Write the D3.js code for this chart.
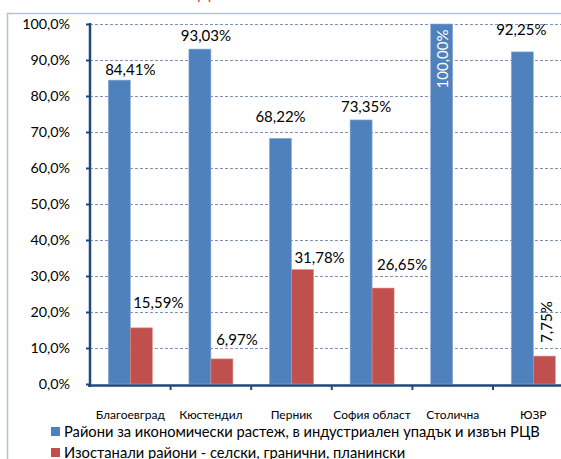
<!DOCTYPE html>
<html>
<head>
<meta charset="utf-8">
<script src="https://cdn.jsdelivr.net/npm/d3@7"></script>
<style>
  body { margin: 0; background: #fff; }
  svg { display: block; font-family: Lato, "Liberation Sans", sans-serif; }
</style>
</head>
<body>
<svg id="chart" width="561" height="459"></svg>
<script>
// data
const categories = ["Благоевград", "Кюстендил", "Перник", "София област", "Столична", "ЮЗР"];
const seriesNames = [
  "Райони за икономически растеж, в индустриален упадък и извън РЦВ",
  "Изостанали райони - селски, гранични, планински"
];
const growthValues = [0.8441, 0.9303, 0.6822, 0.7335, 1.0, 0.9225];
const laggingValues = [0.1559, 0.0697, 0.3178, 0.2665, null, 0.0775];
const growthLabels = ["84,41%", "93,03%", "68,22%", "73,35%", "100,00%", "92,25%"];
const laggingLabels = ["15,59%", "6,97%", "31,78%", "26,65%", "", "7,75%"];
const yTicks = [0, 0.1, 0.2, 0.3, 0.4, 0.5, 0.6, 0.7, 0.8, 0.9, 1.0];
const seriesColors = ["#4F81BD", "#C0504D"];

// label placement (moved by hand in the original): [dx, dy, mode]
const growthLabelPos = [[11, -5], [6, -8], [0, -16], [5, -8], [0, 0, "inside"], [-1, -17]];
const laggingLabelPos = [[17, -20], [15, -14], [17, -7], [19, -18], null, [1.5, -34, "up"]];

const svg = d3.select("#chart");
const fmtTick = d => d3.format(".1f")(d * 100).replace(".", ",") + "%";

// layout
const plotLeft = 90, plotTop = 24, plotBottom = 384, step = 80.6;

// outer chart border (only top and left are on screen)
svg.append("line").attr("x1", 7).attr("x2", 561).attr("y1", 13.5).attr("y2", 13.5)
  .attr("stroke", "#B7C2D4").attr("stroke-width", 1.5);
svg.append("line").attr("x1", 7.5).attr("x2", 7.5).attr("y1", 13).attr("y2", 459)
  .attr("stroke", "#B7C2D4").attr("stroke-width", 1.5);

// title, cut off at the top edge in the original
svg.append("text").attr("x", 198).attr("y", -1).attr("font-size", 16)
  .attr("fill", "#E8413F").text("Д");

const x = d3.scaleBand().domain(categories).range([plotLeft, plotLeft + step * categories.length]);
const xSub = d3.scaleBand().domain([0, 1]).range([0, x.bandwidth()]).paddingOuter(0.832);
const y = d3.scaleLinear().domain([0, 1]).range([plotBottom, plotTop]);

// gridlines
svg.append("g").selectAll("line").data(yTicks.slice(1)).join("line")
  .attr("x1", plotLeft).attr("x2", 561)
  .attr("y1", d => Math.round(y(d)) + 0.5).attr("y2", d => Math.round(y(d)) + 0.5)
  .attr("stroke", "#7F93B5").attr("stroke-width", 1).attr("stroke-dasharray", "3,2");

// bars
const seriesValues = [growthValues, laggingValues];
seriesValues.forEach((vals, s) => {
  svg.append("g").selectAll("rect")
    .data(vals.map((v, i) => ({ v, c: categories[i] })).filter(d => d.v != null))
    .join("rect")
      .attr("x", d => x(d.c) + xSub(s))
      .attr("y", d => y(d.v))
      .attr("width", xSub.bandwidth())
      .attr("height", d => y(0) - y(d.v))
      .attr("fill", seriesColors[s])
      .attr("stroke", s === 0 ? "#8EAAD6" : "#D98C8A")
      .attr("stroke-width", 0.6);
});

// y axis
const yAxis = svg.append("g").attr("transform", `translate(${plotLeft},0)`)
  .call(d3.axisLeft(y).tickValues(yTicks).tickFormat(fmtTick).tickSize(4).tickPadding(16));
yAxis.select(".domain").attr("stroke", "#1F497D").attr("stroke-width", 2.5)
  .attr("d", `M0,${plotTop - 1}V${plotBottom + 3}`);
yAxis.selectAll(".tick line").attr("stroke", "#1F497D").attr("stroke-width", 2);
yAxis.selectAll(".tick text").attr("font-size", 14.3).attr("fill", "#000")
  .attr("font-family", "Lato, 'Liberation Sans', sans-serif");

// x axis
const xAxis = svg.append("g").attr("transform", `translate(0,${plotBottom + 1.5})`)
  .call(d3.axisBottom(x).tickSize(0).tickPadding(25));
xAxis.select(".domain").attr("stroke", "#1F497D").attr("stroke-width", 2.5)
  .attr("d", `M${plotLeft - 2},0H561`);
xAxis.selectAll(".tick text").attr("font-size", 12).attr("fill", "#000")
  .attr("font-family", "Lato, 'Liberation Sans', sans-serif");
svg.append("g").selectAll("line").data(categories.slice(1)).join("line")
  .attr("x1", d => x(d)).attr("x2", d => x(d))
  .attr("y1", plotBottom + 1).attr("y2", plotBottom + 6)
  .attr("stroke", "#1F497D").attr("stroke-width", 2);

// data labels
function drawLabels(vals, labels, pos, s) {
  vals.forEach((v, i) => {
    if (v == null || !pos[i]) return;
    const cx = x(categories[i]) + xSub(s) + xSub.bandwidth() / 2;
    const [dx, dy, mode] = pos[i];
    const t = svg.append("text").attr("font-size", 15).attr("text-anchor", "middle").text(labels[i]);
    if (mode === "inside") {
      t.attr("fill", "#fff").attr("dominant-baseline", "central")
        .attr("transform", `translate(${cx + dx},${y(v) + 35}) rotate(-90)`);
    } else if (mode === "up") {
      t.attr("fill", "#000").attr("dominant-baseline", "central")
        .attr("transform", `translate(${cx + dx},${y(v) + dy}) rotate(-90)`);
    } else {
      t.attr("fill", "#000").attr("x", cx + dx).attr("y", y(v) + dy);
    }
  });
}
drawLabels(growthValues, growthLabels, growthLabelPos, 0);
drawLabels(laggingValues, laggingLabels, laggingLabelPos, 1);

// legend
const legend = svg.append("g").attr("transform", "translate(51,0)");
seriesNames.forEach((name, s) => {
  const g = legend.append("g").attr("transform", `translate(0,${427 + s * 21})`);
  g.append("rect").attr("width", 9).attr("height", 9).attr("fill", seriesColors[s]);
  g.append("text").attr("x", 13).attr("y", 9.5).attr("font-size", 14.7).attr("fill", "#000").text(name);
});
</script>
</body>
</html>
